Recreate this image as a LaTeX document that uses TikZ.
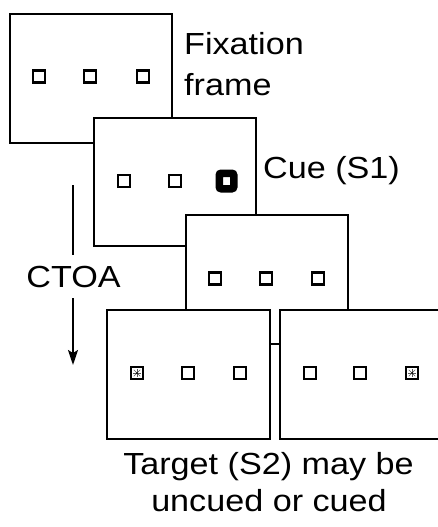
\documentclass[tikz,border=0pt]{standalone}
\usepackage{fontspec}
\setmainfont{Liberation Sans}
\usetikzlibrary{arrows.meta}
\newcommand\stretchtxt[1]{\scalebox{1.12}[1]{#1}}
\begin{document}
\begin{tikzpicture}[x=1pt,y=-1pt,
  framebox/.style={draw=black,fill=white,line width=2.8pt},
  sq/.style={draw=black,fill=white,line width=2.7pt,minimum width=12pt,minimum height=12pt,inner sep=0pt,outer sep=0pt},
  cuesq/.style={draw=black,fill=white,line width=7.5pt,rounded corners=2pt,minimum width=14.5pt,minimum height=15.5pt,inner sep=0pt},
  lbl/.style={font=\fontsize{30.5}{36}\selectfont,inner sep=0pt},
]
\useasboundingbox (0,0) rectangle (438,527);
\fill[white] (0,0) rectangle (438,527);

% frame 1
\draw[framebox] (10,14) rectangle (172,143);
\node[sq] (s11) at (39,76.5) {};
\node[sq] (s12) at (90,76.5) {};
\node[sq] (s13) at (143,76.5) {};
% frame 2
\draw[framebox] (94,118) rectangle (256,246);
\node[sq] (s21) at (124,181) {};
\node[sq] (s22) at (175,181) {};
\node[cuesq] (s23) at (226.5,181) {};
% frame 3
\draw[framebox] (186,215) rectangle (348,344);
\node[sq] (s31) at (215,278.5) {};
\node[sq] (s32) at (266,278.5) {};
\node[sq] (s33) at (318,278.5) {};
% frame 4
\draw[framebox] (107,310) rectangle (270,439);
\node[sq] (s41) at (137,373) {};
\node[sq] (s42) at (188,373) {};
\node[sq] (s43) at (240,373) {};
% frame 5
\draw[framebox] (280,310) rectangle (443,439);
\node[sq] (s51) at (310,373) {};
\node[sq] (s52) at (360,373) {};
\node[sq] (s53) at (412,373) {};

% asterisks in target squares
\foreach \n in {s41,s53}{
  \foreach \a in {0,45,...,315}{
    \draw[line width=0.5pt,gray!70!black] (\n.center) -- ++(\a:{\a==45||\a==135||\a==225||\a==315 ? 4.6 : 3.8});
  }
  \fill[black] (\n.center) circle (1pt);
}

% labels
\node[lbl,anchor=base west] (fix) at (184,55) {\stretchtxt{Fixation}};
\node[lbl,anchor=base west] (frm) at (184,95) {\stretchtxt{frame}};
\node[lbl,anchor=base west] (cue) at (263,178) {\stretchtxt{Cue (S1)}};
\node[lbl,anchor=base] (ctoa) at (73.5,287) {\stretchtxt{CTOA}};
\node[lbl,anchor=base] (tg1) at (268.5,474) {\stretchtxt{Target (S2) may be}};
\node[lbl,anchor=base] (tg2) at (269,511) {\stretchtxt{uncued or cued}};

% CTOA arrow
\coordinate (a1) at (73,185);
\coordinate (a2) at (73,255);
\coordinate (a3) at (73,298);
\coordinate (a4) at (73,365);
\draw[line width=1.9pt] (a1) -- (a2);
\draw[line width=1.9pt,-{Stealth[length=15pt,width=10pt,inset=3pt]}] (a3) -- (a4);
\end{tikzpicture}
\end{document}
